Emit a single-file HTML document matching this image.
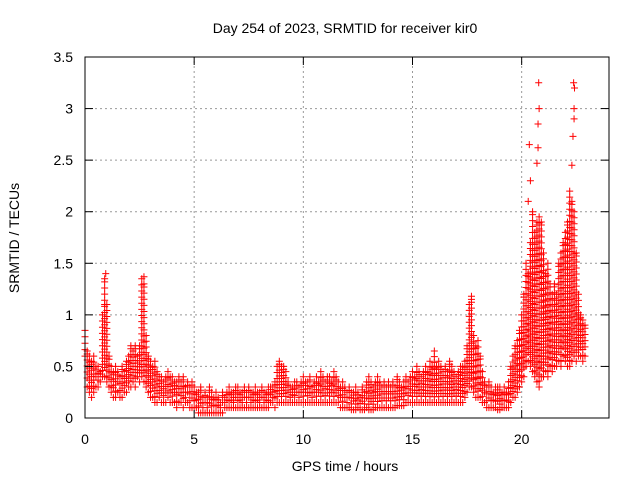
<!DOCTYPE html>
<html><head><meta charset="utf-8"><style>
body{margin:0;background:#fff;}
svg text{font-family:"Liberation Sans",sans-serif;font-size:14px;fill:#000;}
</style></head><body>
<svg id="chart" width="640" height="480" xmlns="http://www.w3.org/2000/svg">
<text x="345" y="33" text-anchor="middle">Day 254 of 2023, SRMTID for receiver kir0</text>
<text x="345" y="471" text-anchor="middle">GPS time / hours</text>
<text transform="translate(19,238) rotate(-90)" text-anchor="middle">SRMTID / TECUs</text>
<g id="grid"></g>
<g id="marks"></g>
<rect x="85" y="57" width="524" height="361" fill="none" stroke="#000" stroke-width="1"/>
<g id="ticks"></g>
</svg>
<script>
const xTicks=[0,5,10,15,20];
const yTicks=[0,0.5,1,1.5,2,2.5,3,3.5];
const yTickLabels=["0","0.5","1","1.5","2","2.5","3","3.5"];
const step=0.1;
const hiVals=[
.85,.65,.6,.55,.6,.5,.5,.45,1.0,1.35,
1.1,.6,.5,.45,.5,.45,.4,.5,.45,.55,
.6,.7,.65,.7,.6,.7,1.35,1.3,.8,.6,
.55,.5,.55,.45,.4,.4,.35,.4,.45,.4,
.4,.35,.35,.4,.35,.4,.3,.35,.3,.35,
.3,.25,.25,.3,.2,.25,.2,.3,.25,.2,
.25,.2,.15,.25,.2,.25,.3,.25,.25,.3,
.3,.25,.25,.3,.25,.3,.25,.25,.3,.25,
.25,.3,.25,.25,.3,.3,.3,.35,.5,.55,
.5,.5,.45,.35,.3,.3,.35,.35,.3,.35,
.4,.35,.35,.4,.3,.35,.4,.35,.45,.4,
.35,.4,.4,.35,.45,.4,.35,.3,.35,.3,
.25,.3,.25,.25,.3,.25,.2,.3,.25,.35,
.4,.35,.3,.35,.4,.35,.3,.35,.3,.35,
.3,.35,.3,.4,.35,.3,.35,.4,.35,.4,
.45,.4,.5,.45,.4,.45,.5,.45,.55,.5,
.65,.5,.55,.5,.45,.5,.45,.55,.5,.45,
.4,.45,.5,.5,.55,.7,1.1,1.15,.8,.7,
.75,.6,.45,.35,.3,.35,.3,.25,.3,.3,
.3,.25,.3,.25,.35,.5,.6,.7,.75,.85,
1.0,1.2,1.5,1.4,1.7,2.0,1.8,1.9,1.95,1.9,
1.6,1.4,1.5,1.3,1.2,1.3,1.2,1.5,1.6,1.7,
1.8,1.9,2.2,2.1,2.0,1.6,1.2,1.0,.95,.9];
const loVals=[
.6,.3,.25,.2,.25,.3,.3,.35,.4,.4,
.35,.3,.25,.2,.2,.25,.2,.2,.25,.25,
.3,.3,.35,.3,.4,.35,.4,.35,.3,.25,
.2,.2,.15,.15,.2,.15,.15,.15,.2,.15,
.15,.15,.1,.15,.15,.1,.15,.15,.1,.1,
.1,.1,.05,.05,.05,.05,.05,.05,.05,.05,
.05,.05,.05,.05,.1,.1,.1,.1,.1,.1,
.1,.1,.1,.1,.1,.1,.1,.1,.1,.1,
.1,.1,.1,.1,.1,.15,.15,.1,.15,.15,
.15,.15,.15,.15,.15,.15,.15,.15,.15,.15,
.15,.15,.15,.15,.15,.15,.15,.15,.15,.15,
.15,.15,.15,.15,.15,.15,.15,.1,.1,.1,
.1,.1,.08,.08,.08,.1,.08,.08,.08,.1,
.08,.08,.08,.1,.1,.1,.1,.1,.1,.1,
.1,.1,.1,.12,.12,.12,.12,.15,.15,.15,
.15,.15,.15,.15,.15,.15,.15,.15,.15,.15,
.15,.15,.15,.15,.15,.15,.15,.15,.15,.15,
.15,.15,.15,.15,.2,.25,.3,.3,.25,.2,
.2,.2,.15,.15,.1,.1,.1,.1,.1,.08,
.08,.1,.1,.1,.1,.15,.2,.2,.25,.3,
.35,.4,.5,.55,.5,.45,.4,.35,.3,.4,
.4,.45,.4,.5,.45,.5,.5,.55,.5,.6,
.55,.5,.5,.55,.6,.55,.6,.6,.55,.6];
const spikeTimes=[0.9,0.95,2.7,17.7,20.3,20.4,20.35,20.7,20.75,20.8,20.78,20.75,22.3,22.35,22.4,22.38,22.42,22.4];
const spikeVals=[1.1,1.4,1.37,1.18,2.1,2.3,2.65,2.47,2.62,3.0,3.25,2.85,2.45,2.73,3.0,3.25,3.2,2.9];

const X0=85,X1=609,Y0=418,Y1=57;
const xs=t=>X0+(t/24)*(X1-X0);
const ys=v=>Y0-(v/3.5)*(Y0-Y1);
const NS="http://www.w3.org/2000/svg";
const grid=document.getElementById('grid'),ticks=document.getElementById('ticks'),marks=document.getElementById('marks');
function line(p,x1,y1,x2,y2,st,dash){const l=document.createElementNS(NS,'line');l.setAttribute('x1',x1);l.setAttribute('y1',y1);l.setAttribute('x2',x2);l.setAttribute('y2',y2);l.setAttribute('stroke',st);if(dash)l.setAttribute('stroke-dasharray',dash);p.appendChild(l);return l;}
xTicks.forEach(t=>{const x=xs(t);
 if(t>0){const g=line(grid,x,Y0,x,Y1,'#999','2,3');}
 line(ticks,x,Y0,x,Y0-8,'#000');line(ticks,x,Y1,x,Y1+8,'#000');
 const tx=document.createElementNS(NS,'text');tx.setAttribute('x',x);tx.setAttribute('y',Y0+26);tx.setAttribute('text-anchor','middle');tx.textContent=t;
 
 
 ticks.appendChild(tx);});
yTicks.forEach((v,i)=>{const y=ys(v);
 if(v>0&&v<3.5){const g=line(grid,X0,y,X1,y,'#999','2,3');}
 line(ticks,X0,y,X0+8,y,'#000');line(ticks,X1,y,X1-8,y,'#000');
 const tx=document.createElementNS(NS,'text');tx.setAttribute('x',X0-12);tx.setAttribute('y',y+5);tx.setAttribute('text-anchor','end');tx.textContent=yTickLabels[i];
 
 
 ticks.appendChild(tx);});
function plus(t,v){const x=xs(t),y=ys(v);const g=document.createElementNS(NS,'path');
 g.setAttribute('d',`M${x-3.5},${y}h7M${x},${y-3.5}v7`);g.setAttribute('stroke','#f00');g.setAttribute('stroke-width','1');
 
 
 marks.appendChild(g);}
hiVals.forEach((h,i)=>{const t=i*step,l=loVals[i];
 const yh=ys(h),yl=ys(l);const n=Math.max(1,Math.round((yl-yh)/6));
 const off=(i%2)*0.5;
 for(let k=0;k<=n;k++){const f=Math.min(1,(k+(k>0&&k<n?off:0))/n);plus(t,l+(h-l)*f);}});
spikeTimes.forEach((t,i)=>plus(t,spikeVals[i]));
</script>
</body></html>
